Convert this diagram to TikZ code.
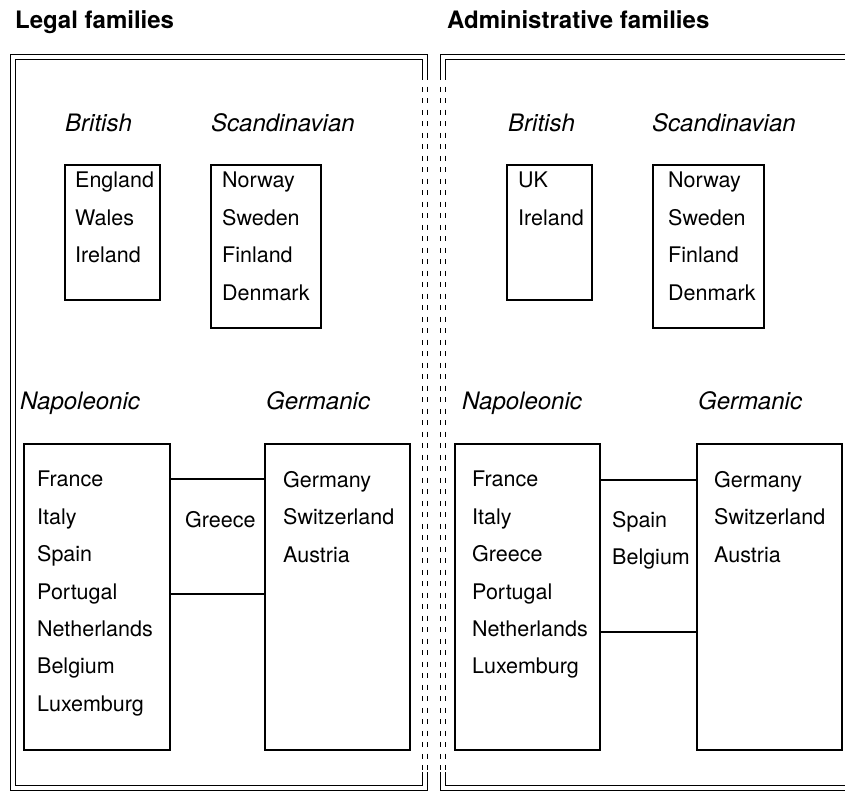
\documentclass[tikz,border=0pt]{standalone}
\usepackage{fontspec}
\setmainfont{TeX Gyre Heros}
\usetikzlibrary{positioning}
\tikzset{
  cbox/.style={draw, line width=1.1pt, inner sep=0pt, outer sep=0pt, anchor=north west},
  cnames/.style={align=left, inner sep=0pt, anchor=north west,
                 font=\fontsize{21.5}{37.4}\selectfont},
  famlabel/.style={inner sep=0pt, anchor=base west, font=\fontsize{24}{28}\selectfont\itshape},
  heading/.style={inner sep=0pt, anchor=base west, font=\fontsize{24}{28}\selectfont\bfseries},
  panel/.style={draw, line width=1pt, double, double distance=4pt},
  panelgap/.style={panel, dash pattern=on 5pt off 6.5pt},
  link/.style={line width=1.1pt},
}

\begin{document}
\begin{tikzpicture}[x=1pt, y=-1pt]
    \useasboundingbox (0,0) rectangle (845,790);
    \clip (0,0) rectangle (845,790);

    % headings
    \node[heading] (hlegal) at (15,28.7) {Legal families};
    \node[heading] (hadmin) at (447,28.7) {Administrative families};

    % panel frames
    \draw[panel] (424.5,75) -- (424.5,56.5) -- (12.5,56.5) -- (12.5,787.5) -- (424.5,787.5) -- (424.5,772);
    \draw[panelgap] (424.5,75) -- (424.5,772);
    \draw[panel] (442.5,75) -- (442.5,56.5) -- (860,56.5);
    \draw[panel] (860,787.5) -- (442.5,787.5) -- (442.5,772);
    \draw[panelgap] (442.5,75) -- (442.5,772);

    % legal families
    \node[cbox, minimum width=95, minimum height=135] (lbrit) at (65,165) {};
    \node[cbox, minimum width=110, minimum height=163] (lscan) at (211,165) {};
    \node[cbox, minimum width=146, minimum height=306] (lnap) at (24,444) {};
    \node[cbox, minimum width=145, minimum height=306] (lgerm) at (265,444) {};
    \node[famlabel] at ([shift={(0,-33.5)}]lbrit.north west) {British};
    \node[famlabel] at ([shift={(0,-33.5)}]lscan.north west) {Scandinavian};
    \node[famlabel] at ([shift={(-4,-34.5)}]lnap.north west) {Napoleonic};
    \node[famlabel] at ([shift={(1,-34.5)}]lgerm.north west) {Germanic};
    \node[cnames] (lbritn) at ([shift={(10,7)}]lbrit.north west) {England\\Wales\\Ireland};
    \node[cnames] (lscann) at ([shift={(11,7)}]lscan.north west) {Norway\\Sweden\\Finland\\Denmark};
    \node[cnames] (lnapn) at ([shift={(13,27)}]lnap.north west) {France\\Italy\\Spain\\Portugal\\Netherlands\\Belgium\\Luxemburg};
    \node[cnames] (lgermn) at ([shift={(18,27)}]lgerm.north west) {Germany\\Switzerland\\Austria};
    \node[cnames] (lmid) at ([shift={(15,67)}]lnap.north east) {Greece};
    \draw[link] ([yshift=-35pt]lnap.north east) -- ([yshift=-35pt]lgerm.north west);
    \draw[link] ([yshift=-150pt]lnap.north east) -- ([yshift=-150pt]lgerm.north west);

    % administrative families
    \node[cbox, minimum width=85, minimum height=135] (rbrit) at (507,165) {};
    \node[cbox, minimum width=111, minimum height=163] (rscan) at (653,165) {};
    \node[cbox, minimum width=145, minimum height=306] (rnap) at (455,444) {};
    \node[cbox, minimum width=145, minimum height=306] (rgerm) at (697,444) {};
    \node[famlabel] at ([shift={(1,-33.5)}]rbrit.north west) {British};
    \node[famlabel] at ([shift={(-1,-33.5)}]rscan.north west) {Scandinavian};
    \node[famlabel] at ([shift={(7,-34.5)}]rnap.north west) {Napoleonic};
    \node[famlabel] at ([shift={(1,-34.5)}]rgerm.north west) {Germanic};
    \node[cnames] (rbritn) at ([shift={(11,7)}]rbrit.north west) {UK\\Ireland};
    \node[cnames] (rscann) at ([shift={(15,7)}]rscan.north west) {Norway\\Sweden\\Finland\\Denmark};
    \node[cnames] (rnapn) at ([shift={(17,27)}]rnap.north west) {France\\Italy\\Greece\\Portugal\\Netherlands\\Luxemburg};
    \node[cnames] (rgermn) at ([shift={(17,27)}]rgerm.north west) {Germany\\Switzerland\\Austria};
    \node[cnames] (rmid) at ([shift={(12,67)}]rnap.north east) {Spain\\Belgium};
    \draw[link] ([yshift=-36pt]rnap.north east) -- ([yshift=-36pt]rgerm.north west);
    \draw[link] ([yshift=-188pt]rnap.north east) -- ([yshift=-188pt]rgerm.north west);
\end{tikzpicture}
\end{document}
